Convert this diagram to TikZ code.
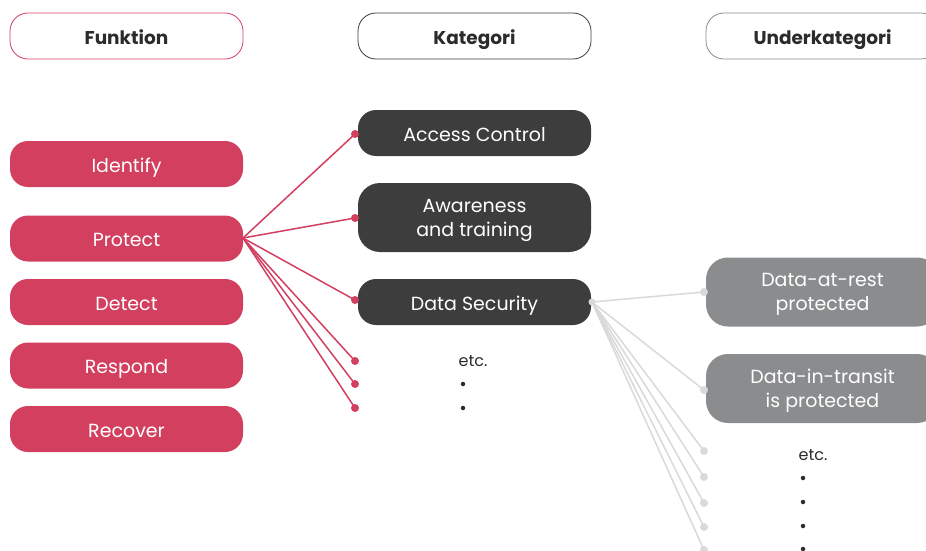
\documentclass[tikz,border=0pt]{standalone}
\usepackage{fontspec}
\setmainfont{Poppins}
\definecolor{pinkc}{HTML}{D33F5F}
\definecolor{darkc}{HTML}{3D3D3D}
\definecolor{grayc}{HTML}{8A8C8E}
\definecolor{linegray}{HTML}{D9D9D9}
\definecolor{txt}{HTML}{2B2B2B}
\tikzset{
  box/.style={rounded corners=18pt, minimum width=233pt, inner sep=0pt, align=center,
    font=\fontsize{19}{24}\selectfont, text=white},
  one/.style={text height=16.5pt, text depth=0pt},
  two/.style={minimum height=69pt, rounded corners=22pt, text depth=-2pt},
  head/.style={box, one, minimum height=46pt, fill=white, text=txt, font=\fontsize{18.5}{22}\selectfont\bfseries, line width=0.8pt},
  fbox/.style={box, one, fill=pinkc, minimum height=46pt},
  cbox/.style={box, fill=darkc},
  sbox/.style={box, fill=grayc},
  pline/.style={draw=pinkc, line width=1.5pt},
  gline/.style={draw=linegray, line width=1.5pt},
  pdot/.style={circle, fill=pinkc, inner sep=0pt, minimum size=8pt},
  gdot/.style={circle, fill=linegray, inner sep=0pt, minimum size=8pt},
  etc/.style={font=\fontsize{16}{18}\selectfont, text=txt, inner sep=0pt},
  bul/.style={circle, fill=txt, inner sep=0pt, minimum size=4.5pt},
}
\begin{document}
\begin{tikzpicture}[x=1pt,y=-1pt]
\useasboundingbox (0,0) rectangle (926,551);
% headers
\node[head, draw=pinkc] (hf) at (126.5,36) {Funktion};
\node[head, draw=darkc] (hk) at (474.5,36) {Kategori};
\node[head, draw=grayc] (hu) at (822.5,36) {Underkategori};
% function boxes
\node[fbox] (identify) at (126.5,164) {Identify};
\node[fbox] (protect) at (126.5,238.5) {Protect};
\node[fbox] (detect) at (126.5,302) {Detect};
\node[fbox] (respond) at (126.5,365.5) {Respond};
\node[fbox] (recover) at (126.5,429) {Recover};
% category boxes
\node[cbox, one, minimum height=46pt] (access) at (474.5,133) {Access Control};
\node[cbox, two] (aware) at (474.5,217.5) {Awareness\\and training};
\node[cbox, one, minimum height=46pt] (datasec) at (474.5,302) {Data Security};
% subcategory boxes
\node[sbox, two] (rest) at (822.5,292) {Data-at-rest\\protected};
\node[sbox, two] (transit) at (822.5,388.5) {Data-in-transit\\is protected};
% pink connectors
\coordinate (ps) at (243,238);
\node[pdot] (p1) at (355,134) {};
\node[pdot] (p2) at (355,218) {};
\node[pdot] (p3) at (355,300) {};
\node[pdot] (p4) at (355,361) {};
\node[pdot] (p5) at (355,384) {};
\node[pdot] (p6) at (355,408) {};
\foreach \p in {p1,p2,p3,p4,p5,p6} \draw[pline] (ps) -- (\p.center);
% gray connectors
\node[gdot, minimum size=7pt] (gs) at (592,302) {};
\node[gdot] (g1) at (704,292) {};
\node[gdot] (g2) at (704,390) {};
\node[gdot] (g3) at (704,451) {};
\node[gdot] (g4) at (704,477) {};
\node[gdot] (g5) at (704,503) {};
\node[gdot] (g6) at (704,527) {};
\node[gdot] (g7) at (704,550) {};
\foreach \g in {g1,g2,g3,g4,g5,g6,g7} \draw[gline] (gs.center) -- (\g.center);
% etc texts
\node[etc] (e1) at (473,361) {etc.};
\node[bul] (b11) at (463,384) {};
\node[bul] (b12) at (463,408) {};
\node[etc] (e2) at (813,455) {etc.};
\node[bul] (b21) at (803,478) {};
\node[bul] (b22) at (803,502) {};
\node[bul] (b23) at (803,526) {};
\node[bul] (b24) at (803,549) {};
\end{tikzpicture}
\end{document}
